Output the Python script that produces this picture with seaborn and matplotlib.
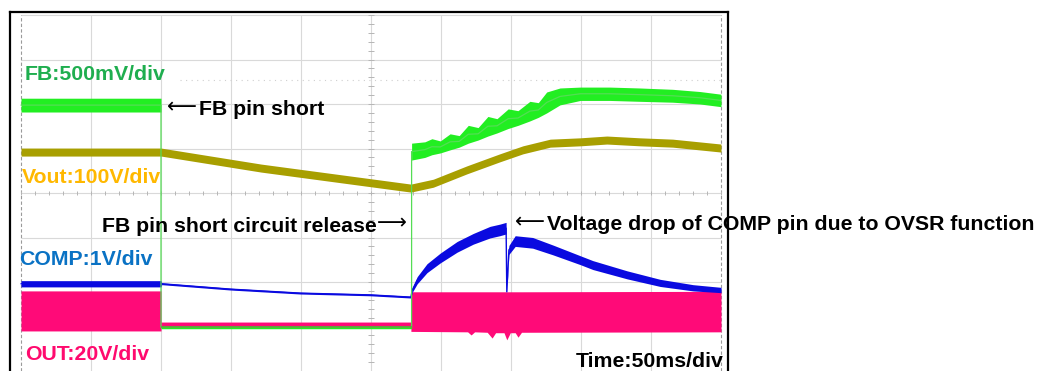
import numpy as np
import pandas as pd
import matplotlib
matplotlib.use("Agg")
import matplotlib.pyplot as plt
import seaborn as sns

# scope screen values, in divisions (x: 0..10 time div, y: 0..8 vertical div)
fb_t  = [0.00, 2.00, 2.00, 5.58, 5.58, 5.77, 5.87, 5.99, 6.13, 6.26, 6.39, 6.53, 6.67, 6.80,
         6.96, 7.10, 7.27, 7.39, 7.51, 7.70, 7.99, 8.41, 8.84, 9.31, 9.70, 10.00]
fb_hi = [6.13, 6.13, 1.01, 1.01, 5.12, 5.15, 5.22, 5.17, 5.33, 5.29, 5.52, 5.47, 5.72, 5.67,
         5.89, 5.85, 6.06, 6.03, 6.27, 6.36, 6.38, 6.38, 6.36, 6.33, 6.28, 6.22]
fb_lo = [5.82, 5.82, 0.95, 0.95, 4.74, 4.80, 4.86, 4.90, 4.97, 5.03, 5.12, 5.19, 5.28, 5.35,
         5.45, 5.52, 5.62, 5.70, 5.80, 5.98, 6.08, 6.08, 6.06, 6.04, 6.00, 5.94]

vout_t   = [0.00, 2.00, 3.43, 5.57, 5.89, 6.37, 6.84, 7.17, 7.56, 7.99, 8.37, 8.84, 9.31, 10.00]
vout_mid = [4.92, 4.92, 4.56, 4.11, 4.22, 4.52, 4.79, 4.97, 5.12, 5.15, 5.19, 5.15, 5.12, 5.01]

comp_t    = [0.00, 2.00, 2.01, 2.99, 3.99, 4.99, 5.57, 5.59, 5.66, 5.80, 5.99, 6.23, 6.46, 6.70,
             6.84, 6.93, 6.94, 6.97, 7.06, 7.31, 7.60, 7.99, 8.17, 8.66, 9.13, 9.60, 10.00]
comp_mid  = [1.96, 1.96, 1.96, 1.84, 1.75, 1.71, 1.66, 1.82, 2.04, 2.31, 2.54, 2.79, 2.97, 3.12,
             3.17, 3.21, 1.78, 2.72, 2.92, 2.88, 2.72, 2.49, 2.38, 2.16, 1.98, 1.87, 1.82]
comp_half = [0.07, 0.07, 0.02, 0.02, 0.02, 0.02, 0.02, 0.05, 0.08, 0.10, 0.11, 0.12, 0.12, 0.13,
             0.13, 0.13, 0.02, 0.10, 0.12, 0.12, 0.11, 0.10, 0.10, 0.09, 0.08, 0.07, 0.06]

out_t  = [0.00, 2.00, 2.00, 5.57, 5.57, 6.38, 6.43, 6.48, 6.66, 6.73, 6.78, 6.90, 6.94, 6.99,
          7.06, 7.10, 7.15, 10.00]
out_hi = [1.80, 1.80, 1.10, 1.10, 1.78, 1.78, 1.78, 1.78, 1.78, 1.78, 1.78, 1.78, 1.78, 1.78,
          1.78, 1.78, 1.78, 1.79]
out_lo = [0.90, 0.90, 1.00, 1.00, 0.89, 0.88, 0.81, 0.88, 0.87, 0.74, 0.86, 0.86, 0.70, 0.86,
          0.86, 0.76, 0.87, 0.88]

labels = ["FB:500mV/div", "Vout:100V/div", "COMP:1V/div", "OUT:20V/div"]
notes = ["FB pin short", "FB pin short circuit release",
         "Voltage drop of COMP pin due to OVSR function"]
arrows = ["\u27f5", "\u27f6", "\u27f5"]
time_label = "Time:50ms/div"

FB_C = "#22ee22"
VOUT_C = "#a89f00"
COMP_C = "#0a0ae0"
OUT_C = "#ff0a78"


def px(x, y):
    # pixel position on the 1040x371 image -> figure fraction
    return x / 1040, 1 - y / 371


sns.set_theme(style="white")
plt.rcParams['font.family'] = ['Liberation Sans', 'DejaVu Sans']

fig = plt.figure(figsize=(10.4, 3.71), dpi=100)
fig.patch.set_facecolor("white")
ax = fig.add_axes([10 / 1040, 0, 718 / 1040, 359 / 371])
ax.set_xlim(-11 / 70, 707 / 70)
ax.set_ylim(0, 359 / 44.5)
ax.set_xticks([])
ax.set_yticks([])
ax.spines['bottom'].set_visible(False)
for s in ['left', 'right', 'top']:
    ax.spines[s].set_color("black")
    ax.spines[s].set_linewidth(1.6)

# graticule
ax.vlines(range(1, 10), 0, 8, color="#d9d9d9", lw=0.8, zorder=0)
ax.hlines(range(1, 9), 0, 10, color="#d9d9d9", lw=0.8, zorder=0)
ax.vlines([0, 10], 0, 8, color="#9a9a9a", lw=0.8, linestyles=(0, (3, 2)), zorder=0)
ax.hlines(6.54, 2.27, 10, color="#cfcfcf", lw=0.8, linestyles=(0, (1, 4)), zorder=0)
mx = np.arange(0, 10.01, 0.2)
ax.vlines(mx, 4 - 0.05, 4 + 0.05, color="#b5b5b5", lw=0.7, zorder=0)
my = np.arange(0, 8.01, 0.2)
ax.hlines(my, 5 - 0.04, 5 + 0.04, color="#b5b5b5", lw=0.7, zorder=0)

# OUT
ax.fill_between(out_t, out_lo, out_hi, color=OUT_C, lw=0, zorder=2)

# COMP
cm = np.array(comp_mid)
ch = np.array(comp_half)
ax.fill_between(comp_t, cm - ch, cm + ch, color=COMP_C, lw=0, zorder=3)
sns.lineplot(x=comp_t, y=comp_mid, sort=False, estimator=None, color=COMP_C, lw=1.0, ax=ax, zorder=3)

# Vout
vm = np.array(vout_mid)
ax.fill_between(vout_t, vm - 0.09, vm + 0.09, color=VOUT_C, lw=0, zorder=4)

# FB
fb_mid = (np.array(fb_hi) + np.array(fb_lo)) / 2
ax.fill_between(fb_t, fb_lo, fb_hi, color=FB_C, lw=0, zorder=5)
sns.lineplot(x=fb_t, y=fb_mid, sort=False, estimator=None, color="#55dd55", lw=0.9, ax=ax, zorder=5)
ax.hlines(0.98, 2.0, 5.58, color="#5aa83a", lw=1.2, zorder=5)

# text
tkw = dict(fontsize=15.3, fontweight="bold", va="baseline")
akw = dict(fontsize=15, family="DejaVu Sans", fontweight="normal", va="baseline", color="black")
fig.text(*px(25, 80), labels[0], color="#1fae4f", **tkw)
fig.text(*px(22, 183), labels[1], color="#ffb800", **tkw)
fig.text(*px(19, 265), labels[2], color="#0a72c4", **tkw)
fig.text(*px(25, 360), labels[3], color="#ff0a6e", **tkw)

fig.text(*px(199, 115), notes[0], color="black", **tkw)
fig.text(*px(197, 113), arrows[0], ha="right", **akw)
fig.text(*px(377, 232), notes[1], color="black", ha="right", **tkw)
fig.text(*px(377, 229), arrows[1], ha="left", **akw)
fig.text(*px(547, 230), notes[2], color="black", **tkw)
fig.text(*px(545, 228), arrows[2], ha="right", **akw)
fig.text(*px(724, 367), time_label, color="black", ha="right", **tkw)

fig.savefig("out.png", dpi=100)
